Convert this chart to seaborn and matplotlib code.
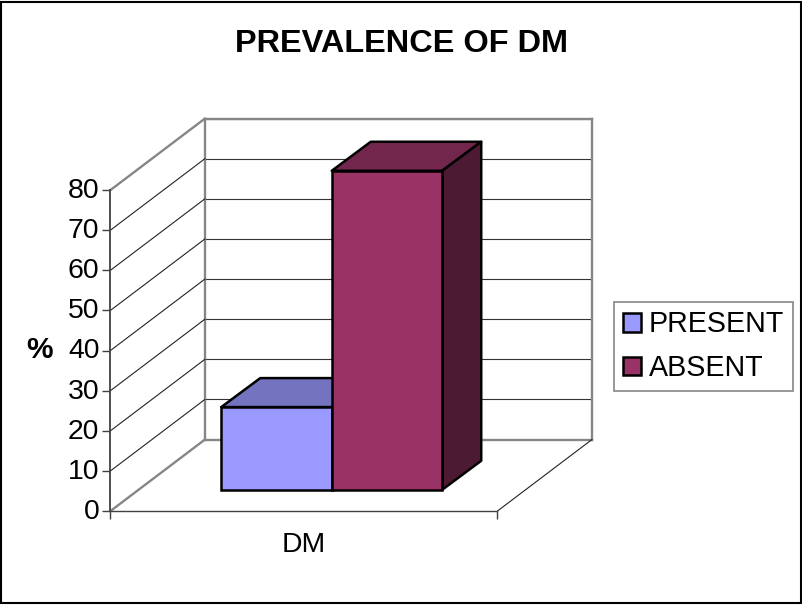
import matplotlib
matplotlib.use("Agg")
import matplotlib.pyplot as plt
from matplotlib.patches import Polygon, Rectangle
from matplotlib.transforms import ScaledTranslation
import pandas as pd
import seaborn as sns

categories = ["DM"]
series_names = ["PRESENT", "ABSENT"]
series_values = [20.6, 79.5]
y_ticks = [0, 10, 20, 30, 40, 50, 60, 70, 80]
title = "PREVALENCE OF DM"
y_label = "%"

FRONT = "#9999FF", "#993366"
TOP = "#7373BF", "#73264C"
SIDE = "#3A3A60", "#4D1A33"
GREY = "#868686"
DARK = "#404040"

W, H = 803, 605
sns.set_theme(style="white")
plt.rcParams["font.family"] = ["Liberation Sans", "DejaVu Sans"]
fig = plt.figure(figsize=(W / 100, H / 100), dpi=100, facecolor="white")


def make_axes(left, bottom, width=387.0, height=321.0, z=1):
    a = fig.add_axes([left / W, (H - bottom) / H, width / W, height / H], zorder=z)
    a.patch.set_alpha(0)
    a.set_xlim(-0.5, 0.5)
    a.set_ylim(0, 80)
    return a


FX, FY = 110.5, 511.0          # front-axis origin (px)
WALL_DX, WALL_DY = 94.5, 71.5  # depth of the chart box
BAR_DX, BAR_DY = 39.0, 29.0    # depth of a bar
PX_X, PX_Y = 1 / 387.0, 80 / 321.0

# border
fig.add_artist(Rectangle((1.2 / W, 2.2 / H), 800.3 / W, 600.8 / H, transform=fig.transFigure,
                         fill=False, edgecolor="black", linewidth=1.5))

# back wall
back = make_axes(FX + WALL_DX, FY - WALL_DY, z=1)
back.set_xticks([])
back.set_yticks(y_ticks)
back.set_yticklabels([])
back.tick_params(left=False, labelleft=False)
back.grid(axis="y", color="#333333", linewidth=0.8)
for s in back.spines.values():
    s.set_color(GREY)
    s.set_linewidth(1.7)

# front axis with the scale
front = make_axes(FX, FY, z=2)
front.set_yticks(y_ticks)
front.set_xticks([0])
front.set_xticklabels(categories)
front.set_xticks([-0.5, 0.5], minor=True)
front.tick_params(axis="y", which="major", left=True, length=5.5, width=1.0, color=DARK,
                  labelsize=20.4, labelcolor="black", pad=2.5)
front.tick_params(axis="x", which="major", bottom=False, labelsize=20.4, labelcolor="black", pad=9.2)
front.tick_params(axis="x", which="minor", bottom=True, length=5.5, width=1.0, color=DARK)
for label in front.get_yticklabels():
    label.set_transform(label.get_transform() + ScaledTranslation(0, 2 / 100, fig.dpi_scale_trans))
for name, s in front.spines.items():
    s.set_visible(name in ("left", "bottom"))
    s.set_color(DARK)
front.spines["left"].set_linewidth(1.3)
front.spines["bottom"].set_linewidth(1.0)
front.set_ylabel(y_label, rotation=0, fontsize=21.5, fontweight="bold", color="black",
                 ha="center", va="center")
front.yaxis.set_label_coords((39.5 - FX) / 387, (FY - 350) / 321)

# side wall and floor depth lines
ddx, ddy = WALL_DX * PX_X, WALL_DY * PX_Y
for v in y_ticks:
    heavy = v in (y_ticks[0], y_ticks[-1])
    front.plot([-0.5, -0.5 + ddx], [v, v + ddy], clip_on=False,
               color=GREY if heavy else "#222222", lw=1.7 if heavy else 0.8)
front.plot([0.5, 0.5 + ddx], [0, ddy], clip_on=False, color="#222222", lw=0.8)

# bars
bars = make_axes(FX + (WALL_DX - BAR_DX) / 2, FY - (WALL_DY - BAR_DY) / 2, z=3)
df = pd.DataFrame({"group": categories * len(series_names),
                   "series": series_names, "value": series_values})
sns.barplot(data=df, x="group", y="value", hue="series", hue_order=series_names,
            palette=list(FRONT), width=0.571, gap=0, saturation=1, legend=False,
            edgecolor="black", linewidth=1.8, ax=bars)
bars.set_xlim(-0.5, 0.5)
bars.set_ylim(0, 80)
bars.set_axis_off()
bdx, bdy = BAR_DX * PX_X, BAR_DY * PX_Y
handles = []
for i, cont in enumerate(bars.containers):
    for p in cont:
        p.set_clip_on(False)
        p.set_zorder(5 + 2 * i)
        x0, x1, h = p.get_x(), p.get_x() + p.get_width(), p.get_height()
        bars.add_patch(Polygon([(x0, h), (x1, h), (x1 + bdx, h + bdy), (x0 + bdx, h + bdy)],
                               facecolor=TOP[i], edgecolor="black", linewidth=1.8,
                               joinstyle="round", clip_on=False, zorder=4 + 2 * i))
        bars.add_patch(Polygon([(x1, 0), (x1 + bdx, bdy), (x1 + bdx, h + bdy), (x1, h)],
                               facecolor=SIDE[i], edgecolor="black", linewidth=1.8,
                               joinstyle="round", clip_on=False, zorder=4 + 2 * i))
    handles.append(cont[0])

leg = fig.legend(handles, series_names, loc="upper left",
                 bbox_to_anchor=(614 / W, 1 - 301.5 / H), bbox_transform=fig.transFigure,
                 fontsize=20.6, frameon=True, fancybox=False, framealpha=1, edgecolor=GREY,
                 handlelength=0.63, handleheight=0.63, handletextpad=0.27,
                 labelspacing=0.55, borderpad=0.31, borderaxespad=0, labelcolor="black")
leg.get_frame().set_linewidth(1.2)
leg.set_zorder(6)

fig.text(402 / W, 1 - 44 / H, title, ha="center", va="center", fontsize=23.4,
         fontweight="bold", color="black")

fig.savefig("out.png", dpi=100, facecolor="white")
